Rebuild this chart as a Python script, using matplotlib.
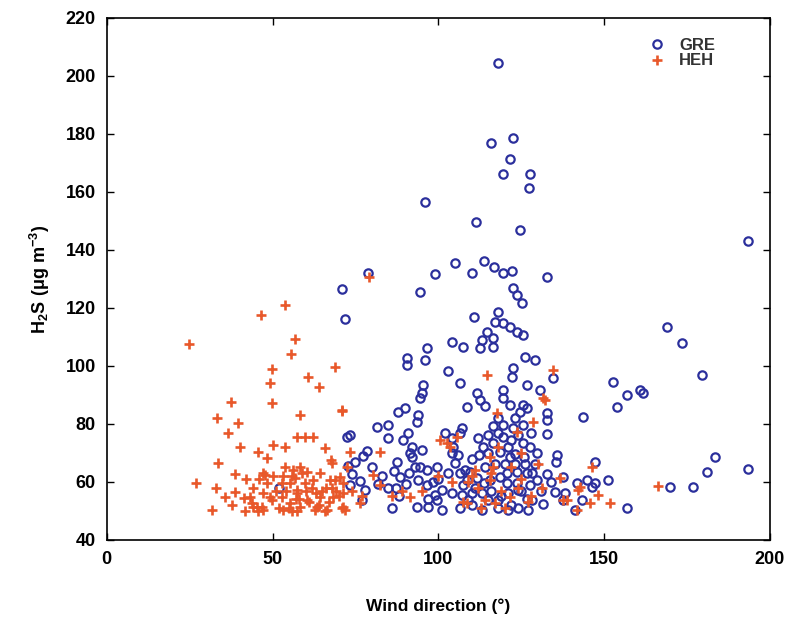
import matplotlib
matplotlib.use("Agg")
import matplotlib.pyplot as plt
import numpy as np

plt.rcParams['font.family'] = ['Liberation Sans', 'DejaVu Sans']
plt.rcParams['mathtext.fontset'] = 'custom'
plt.rcParams['mathtext.rm'] = 'Liberation Sans:bold'
plt.rcParams['mathtext.it'] = 'Liberation Sans:bold'
plt.rcParams['mathtext.bf'] = 'Liberation Sans:bold'

# GRE (wind direction in degrees, H2S in ug m-3)
gre_x = [118, 116, 122.5, 121.5, 119.5, 127.5, 127.3, 96, 111.5, 124.5, 193.4, 78.7, 99, 105, 110, 113.7,
         116.7, 119.5, 122.2, 132.7, 71, 94.4, 122.5, 123.7, 125.2, 71.8, 110.7, 117.9, 117, 119.5, 121.6,
         123.7, 125.5, 114.6, 113.1, 116.4, 112.5, 116.4, 104, 107.4, 96.5, 95.9, 90.5, 90.5, 102.9, 106.5,
         95.3, 95, 94.4, 111.6, 112.5, 108.6, 126, 129, 122.5, 122.1, 119.5, 126.7, 130.6, 134.5, 119.5,
         121.6, 125.5, 124.6, 126.7, 132.7, 132.7, 143.7, 87.8, 89.9, 93.8, 93.5, 81.4, 84.8, 84.8, 73.3,
         90.9, 89.3, 92.2, 95, 92, 92.9, 102, 104.1, 107.1, 106.5, 104.4, 105.9, 105, 116.4, 119.5, 122.5,
         125.5, 128, 119.5, 122, 125.5, 127.6, 116.4, 113.4, 112.4, 114.9, 118.6, 121.6, 123, 125.8, 129.7,
         132.7, 135.7, 135.4, 78.4, 77.2, 87.5, 86.6, 88.4, 91.4, 94.4, 96.5, 99.5, 104.1, 72.6, 74, 76.5,
         73.3, 77.8, 76.9, 81.7, 84.8, 87.2, 90.2, 94, 96.5, 98.5, 101.1, 98.9, 99.5, 101.1, 93.6, 97, 86,
         106.5, 109.5, 111.7, 108.6, 113.7, 115.5, 107.4, 104.1, 107.1, 108.9, 106.5, 110.1, 113.1, 110.1,
         113.1, 114.9, 117.9, 118, 121, 124, 127, 121, 124, 126.7, 128.2, 131.5, 135.1, 138.2, 137.6, 141.2,
         143.3, 146.3, 118.6, 120.7, 123.7, 126.7, 120.7, 123.7, 127.6, 129.7, 128.2, 132.7, 137.6, 141.8,
         144.8, 108, 152.6, 156.9, 153.8, 160.8, 161.7, 147.2, 147.2, 151.1, 156.9, 169.8, 176.8, 181, 183.4,
         193.4, 168.9, 173.5, 179.5, 51.9, 72.4,
         116, 119, 122, 125, 111, 114, 117, 120, 123, 126, 129, 112, 115, 118, 121, 124, 103, 100, 97, 91,
         88, 83, 80, 75, 131, 134, 110, 118, 123, 114]
gre_y = [204.5, 177, 178.5, 171.5, 166, 166, 161.5, 156.5, 149.5, 147, 143, 132, 131.7, 135.5, 132, 136,
         134, 132, 132.8, 130.5, 126.5, 125.5, 127, 124.5, 121.7, 116.2, 117, 118.6, 115.2, 114.8, 113.4,
         111.7, 110.7, 111.7, 109, 109.7, 106.2, 106.6, 108.3, 106.6, 106.2, 102, 102.8, 100.3, 98.3, 94.1,
         93.4, 90.7, 89, 90.7, 88.3, 85.9, 103.1, 102, 99.3, 96.2, 91.7, 93.4, 91.7, 95.9, 89,
         86.6, 86.6, 84.1, 85.5, 83.8, 81.4, 82.3, 84.1, 85.5, 83.1, 80.7, 78.8, 79.7, 75, 76.2,
         76.9, 74.5, 72.1, 71, 68.6, 65.2, 76.9, 75.2, 78.6, 76.9, 72.1, 69.3, 66.6, 79.2, 79.7, 78.6,
         79.7, 76.9, 75.5, 74.5, 73.4, 72.1, 73.4, 72.1, 69.3, 70, 70.3, 68.6, 69.5, 68.6, 70,
         76.5, 69.3, 66.9, 70.8, 69, 66.9, 63.6, 61.7, 70, 65.2, 64.1, 65.2, 69.8, 65.6, 62.8, 60.2,
         59, 57.2, 53.8, 59.3, 58, 57.9, 59.2, 60.8, 59, 59.8, 57.2, 55.5, 53.8, 50.3, 51.4, 51.2, 51,
         63.1, 63.4, 61.5, 60.7, 59.7, 60.7, 59, 56.2, 55.5, 53.8, 51, 56.2, 56.2, 52.1,
         50.3, 53.8, 53.8, 51, 50.3, 51, 50.3, 56.2, 57.2, 54, 53.8, 52.4, 56.6, 56.2, 53.8, 50.3,
         53.8, 58.3, 61.7, 63.1, 63.4, 63.1, 59.7, 59.7, 59, 60.7, 63.1, 62.8, 61.7, 59.7,
         60.7, 64.1, 94.5, 90, 85.9, 91.7, 90.7, 66.9, 59.7, 60.7, 51, 58.3, 58.3, 63.4, 68.6,
         64.5, 113.4, 107.9, 96.9, 58, 75.5,
         57, 55, 52, 57, 58, 65, 66, 66, 66, 66, 66, 75, 76, 77, 72, 76, 63, 61, 54, 63,
         55, 62, 65, 67, 57, 60, 68, 82, 82, 86]

# HEH
heh_x = [53.7, 46.5, 24.7, 56.7, 55.5, 49.8, 49.2, 60.6, 64, 68.8, 49.8, 37.4, 33.2, 39.5, 36.5, 58.2, 70.9,
         57.3, 59.7, 62.1, 40.1, 50.1, 53.7, 45.6, 48.3, 65.8, 67.6, 33.5, 38.6, 26.8, 32.9, 35.6, 31.7, 37.7,
         41.6, 38.6, 45.2, 47.1, 48.3, 47.1, 49.2, 53.7, 56.1, 58.2, 60.3, 52.8, 55.2, 57.3, 59.7, 62.1, 64.3,
         67.3, 70.3, 52.8, 55.2, 58.2, 55.8, 60.3, 63.3, 66.4, 68.2, 71.2, 64.3, 43.1, 44, 71.2, 72.4, 47.7,
         56.7, 41.3, 43.7, 46.8, 49.8, 57.3, 62.7, 70.9, 53.1, 45.6, 57.3, 65.8,
         79, 70.9, 114.6, 134.5, 117.6, 131.5, 102.6, 105.6, 82.4, 73.3, 115.5, 123.7, 128.5, 131.2, 136.7,
         142.7, 137.6, 141.8, 115.5, 116.4, 108.6, 114, 117, 121.6, 67.9, 68.8, 71.2, 71.8, 76.3, 80.2, 82.4,
         91.4, 107.4, 100.5, 103.5, 146.3, 142.1, 145.7, 148.1, 151.7, 166.2, 138.8, 132.1,
         112, 119, 125, 128, 122, 110, 118, 125, 130, 86, 89, 95, 100, 104,
         51, 54, 57, 60, 63, 66, 69, 50, 53, 56, 59, 62, 65, 68, 44, 47, 42, 46, 52, 55, 58, 61, 64, 67, 70,
         74, 77, 113, 120, 127, 111, 116, 124, 109]
heh_y = [121, 117.6, 107.6, 109.3, 104.1, 99, 94.1, 96.2, 92.8, 99.7, 87.2, 87.6, 82.1, 80.3, 76.9, 83.1, 84.5,
         75.5, 75.5, 75.5, 72.1, 72.8, 72.1, 70.3, 68.3, 71.7, 67.6, 66.6, 62.8, 59.7, 57.9, 54.8, 50.3, 52.1,
         49.8, 56.6, 51.4, 50.3, 59.7, 63.1, 54.8, 65.2, 64.1, 65.2, 63.4, 59.7, 59.7, 57.2, 59.7, 60.7, 63.1,
         60.7, 61.7, 54.8, 52.8, 51.4, 50, 53.8, 51.4, 50.3, 54.8, 51.4, 54.8, 54.8, 51.4, 59.7, 65.2, 62.4,
         61.4, 54.5, 52.8, 51.4, 53.8, 56.2, 50.3, 51, 50.3, 50, 50, 50,
         130.7, 84.8, 96.9, 98.6, 83.8, 89, 73.4, 75.5, 70.3, 70.3, 68.6, 77.3, 80.7, 57.9, 61.4,
         58.3, 53.8, 50.3, 60.7, 65.2, 52.8, 53.8, 52.8, 54.8, 66.6, 60.7, 56.2, 50.3, 52.8, 62.4, 59,
         54.8, 53.1, 74.5, 72.1, 65.2, 57.2, 52.8, 55.5, 52.8, 58.6, 53.8, 88.3,
         58, 57, 61, 55, 65, 62, 72, 70, 66, 55, 57, 57, 62, 60,
         57, 57, 54, 57, 56, 58, 57, 62, 62, 62, 63, 58, 57, 58, 58, 56, 61, 61, 51, 51, 54, 53, 52, 53, 55,
         57, 55, 51, 51, 53, 64, 63, 58, 60]

x_ticks = [0, 50, 100, 150, 200]
y_ticks = [40, 60, 80, 100, 120, 140, 160, 180, 200, 220]

fig = plt.figure(figsize=(7.97, 6.17), dpi=100)
ax = fig.add_axes([0.134, 0.125, 0.832, 0.846])

ax.plot(gre_x, gre_y, linestyle='none', marker='o', markersize=6.0, markerfacecolor='none',
        markeredgecolor='#2b2f9c', markeredgewidth=1.6, label='GRE')
ax.plot(heh_x, heh_y, linestyle='none', marker='+', markersize=6.5,
        color='#e8582a', markeredgewidth=1.9, label='HEH')

ax.set_xlim(0, 200)
ax.set_ylim(40, 220)
ax.set_xticks(x_ticks)
ax.set_yticks(y_ticks)
ax.tick_params(direction='in', top=True, right=True, length=5, width=1.0, labelsize=13, pad=8)
for lab in ax.get_xticklabels() + ax.get_yticklabels():
    lab.set_fontweight('bold')
for s in ax.spines.values():
    s.set_linewidth(1.2)

ax.set_xlabel('Wind direction (°)', fontsize=12.5, fontweight='bold', labelpad=22)
ax.set_ylabel(r'$\mathbf{H_2S\ (\mu g\ m^{-3})}$', fontsize=13, labelpad=10)

leg = ax.legend(loc='upper left', bbox_to_anchor=(0.805, 0.975), frameon=False, fontsize=12,
                handletextpad=0.7, labelspacing=0.05, handlelength=1.2, borderaxespad=0)
for t in leg.get_texts():
    t.set_fontweight('bold')
    t.set_color('#333333')

fig.savefig('out.png', dpi=100)
